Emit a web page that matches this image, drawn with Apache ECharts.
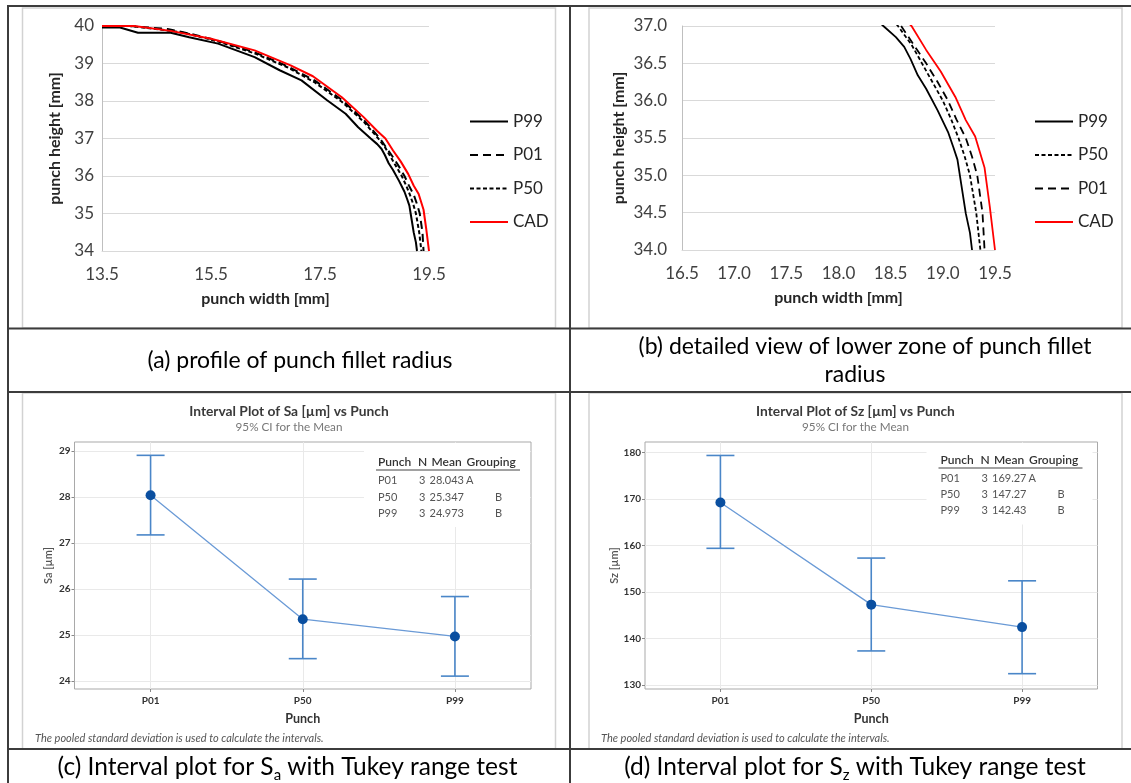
<!DOCTYPE html>
<html><head><meta charset="utf-8">
<script src="https://cdn.jsdelivr.net/npm/echarts@6/dist/echarts.min.js"></script>
<style>html,body{margin:0;padding:0;background:#fff}#c{width:1131px;height:783px}</style>
</head><body><div id="c"></div>
<script>
// ---- profile data [punch width mm, punch height mm] ----
const P99 = [[13.50,39.96],[13.83,39.96],[14.16,39.82],[14.76,39.82],[15.10,39.70],[15.63,39.53],[16.30,39.17],[16.76,38.82],[17.16,38.55],[17.63,38.02],[17.97,37.66],[18.20,37.30],[18.43,37.00],[18.55,36.85],[18.63,36.72],[18.69,36.56],[18.76,36.34],[18.84,36.16],[18.95,35.87],[19.05,35.58],[19.10,35.38],[19.14,35.21],[19.17,34.94],[19.22,34.49],[19.26,34.23],[19.28,34.00]];
const P01 = [[13.50,40.00],[14.00,40.00],[14.70,39.92],[15.10,39.80],[15.60,39.62],[16.30,39.30],[16.90,38.93],[17.40,38.55],[17.90,38.03],[18.30,37.50],[18.60,37.00],[18.72,36.75],[18.84,36.50],[18.95,36.25],[19.05,36.00],[19.13,35.75],[19.22,35.50],[19.28,35.25],[19.33,35.00],[19.38,34.50],[19.39,34.25],[19.40,34.00]];
const P50 = [[13.50,40.00],[14.00,40.00],[14.60,39.90],[15.00,39.82],[15.60,39.60],[16.30,39.27],[16.90,38.90],[17.40,38.50],[17.90,37.98],[18.30,37.45],[18.57,37.00],[18.70,36.75],[18.80,36.50],[18.90,36.25],[19.00,36.00],[19.08,35.75],[19.15,35.50],[19.21,35.25],[19.26,35.00],[19.32,34.50],[19.34,34.25],[19.36,34.00]];
const CAD = [[13.50,40.00],[14.09,40.00],[14.76,39.87],[15.50,39.66],[16.30,39.35],[16.96,38.95],[17.37,38.66],[17.90,38.10],[18.30,37.57],[18.55,37.20],[18.70,37.00],[18.84,36.68],[18.98,36.39],[19.12,36.05],[19.22,35.74],[19.31,35.52],[19.40,35.10],[19.45,34.58],[19.50,34.00]];
const profileXTicks = [13.5, 15.5, 17.5, 19.5];
const legendA = ['P99', 'P01', 'P50', 'CAD'];
const legendB = ['P99', 'P50', 'P01', 'CAD'];

// ---- interval plot data ----
const punches = ['P01', 'P50', 'P99'];
const sampleN = [3, 3, 3];
const saMean = [28.043, 25.347, 24.973];
const saLow  = [27.18, 24.49, 24.11];
const saHigh = [28.91, 26.22, 25.84];
const saGroup = [['A', ''], ['', 'B'], ['', 'B']];
const saTicks = [24, 25, 26, 27, 28, 29];
const szMean = [169.27, 147.27, 142.43];
const szLow  = [159.4, 137.3, 132.4];
const szHigh = [179.4, 157.3, 152.4];
const szGroup = [['A', ''], ['', 'B'], ['', 'B']];
const szTicks = [130, 140, 150, 160, 170, 180];

const F = 'Lato, "Noto Sans", sans-serif';
const chart = echarts.init(document.getElementById('c'));

const lineStyles = {
  P99: { color: '#000000', type: 'solid' },
  P01: { color: '#000000', type: [8, 5] },
  P50: { color: '#000000', type: [4, 2.5] },
  CAD: { color: '#ff0000', type: 'solid' }
};
const profiles = { P99, P01, P50, CAD };
function profSeries(idx, width) {
  return ['P99', 'P01', 'P50', 'CAD'].map(n => ({
    name: n, type: 'line', xAxisIndex: idx, yAxisIndex: idx,
    data: profiles[n], showSymbol: false, symbol: 'none', clip: true,
    lineStyle: { color: lineStyles[n].color, type: lineStyles[n].type, width: width },
    itemStyle: { color: lineStyles[n].color }, silent: true, animation: false
  }));
}

function excelName() {
  return { fontFamily: F, fontWeight: 'bold', fontSize: 16, color: '#262626' };
}

function errRender(params, api) {
  const x = api.value(0);
  const lo = api.coord([x, api.value(1)]);
  const hi = api.coord([x, api.value(2)]);
  const w = 14;
  const style = { stroke: '#4a86c8', lineWidth: 1.6 };
  return { type: 'group', children: [
    { type: 'line', shape: { x1: lo[0], y1: lo[1], x2: hi[0], y2: hi[1] }, style },
    { type: 'line', shape: { x1: hi[0] - w, y1: hi[1], x2: hi[0] + w, y2: hi[1] }, style },
    { type: 'line', shape: { x1: lo[0] - w, y1: lo[1], x2: lo[0] + w, y2: lo[1] }, style }
  ]};
}

function gridMarks(ticks) {
  return {
    silent: true, symbol: 'none', z: 0,
    label: { show: false },
    lineStyle: { color: '#e9e9e9', type: 'solid', width: 1 },
    emphasis: { disabled: true },
    data: punches.map(p => ({ xAxis: p })).concat(ticks.map(t => ({ yAxis: t })))
  };
}

function intervalSeries(idx, mean, low, high, ticks) {
  return [
    { type: 'line', xAxisIndex: idx, yAxisIndex: idx, data: [], z: 0, markLine: gridMarks(ticks), silent: true },
    { type: 'custom', xAxisIndex: idx, yAxisIndex: idx, z: 3, silent: true,
      data: punches.map((p, i) => [i, low[i], high[i]]), encode: { x: 0, y: [1, 2] }, renderItem: errRender },
    { type: 'line', xAxisIndex: idx, yAxisIndex: idx, z: 4, silent: true, data: mean,
      symbol: 'circle', symbolSize: 10, showSymbol: true,
      itemStyle: { color: '#0a4fa0' }, lineStyle: { color: '#6a9ad6', width: 1.3 } }
  ];
}

function tableGraphics(x0, yH, rowYs, means, digits, groups) {
  const els = [];
  els.push({ type: 'rect', z: 1, silent: true,
    shape: { x: x0 - 14, y: 443, width: 166, height: rowYs[2] + 14 - 443 },
    style: { fill: '#ffffff' } });
  const hs = { font: '600 12px ' + F, fill: '#333', textVerticalAlign: 'middle' };
  [['Punch', 0], ['N', 40], ['Mean', 53.5], ['Grouping', 88.5]].forEach(([t, dx]) => {
    els.push({ type: 'text', z: 5, silent: true, x: x0 + dx, y: yH, style: Object.assign({ text: t }, hs) });
  });
  els.push({ type: 'line', z: 5, silent: true, shape: { x1: x0 - 2, y1: yH + 8, x2: x0 + 142, y2: yH + 8 },
    style: { stroke: '#444', lineWidth: 1.2 } });
  const rs = { font: '11px ' + F, fill: '#555', textVerticalAlign: 'middle' };
  punches.forEach((p, i) => {
    const y = rowYs[i];
    els.push({ type: 'text', z: 5, silent: true, x: x0, y, style: Object.assign({ text: p }, rs) });
    els.push({ type: 'text', z: 5, silent: true, x: x0 + 47.5, y, style: Object.assign({ text: String(sampleN[i]), textAlign: 'right' }, rs) });
    els.push({ type: 'text', z: 5, silent: true, x: x0 + 51.5, y, style: Object.assign({ text: means[i].toFixed(digits) }, rs) });
    els.push({ type: 'text', z: 5, silent: true, x: x0 + 88, y, style: Object.assign({ text: groups[i][0] }, rs) });
    els.push({ type: 'text', z: 5, silent: true, x: x0 + 117, y, style: Object.assign({ text: groups[i][1] }, rs) });
  });
  return els;
}

function text(x, y, t, font, fill, align, extra) {
  return { type: 'text', z: 6, silent: true, x, y,
    style: Object.assign({ text: t, font, fill, textAlign: align || 'center', textVerticalAlign: 'middle' }, extra || {}) };
}

const graphics = [];
// table borders
[[8, 5, 8, 783], [570, 5, 570, 783], [7, 6, 1131, 6], [8, 328.5, 1131, 328.5], [8, 392, 1131, 392], [8, 749, 1131, 749]]
  .forEach(l => graphics.push({ type: 'line', z: 10, silent: true, shape: { x1: l[0], y1: l[1], x2: l[2], y2: l[3] }, style: { stroke: '#3c3c3c', lineWidth: 2 } }));
// inner frames
[[22.5, 8, 533, 320], [589, 8, 533, 320], [22.5, 393, 533, 356], [589, 393, 533, 356]]
  .forEach(r => graphics.push({ type: 'rect', z: 0, silent: true, shape: { x: r[0], y: r[1], width: r[2], height: r[3] }, style: { fill: 'none', stroke: '#d2d2d2', lineWidth: 1.5 } }));
// captions
graphics.push(text(300, 361, '(a) profile of punch fillet radius', '23px ' + F, '#000'));
graphics.push(text(865, 347, '(b) detailed view of lower zone of punch fillet', '23px ' + F, '#000'));
graphics.push(text(855, 375, 'radius', '23px ' + F, '#000'));
const capRich = { s: { fontSize: 15, fontFamily: F, lineHeight: 20, verticalAlign: 'bottom', fill: '#000' } };
graphics.push(text(287.5, 767, '(c) Interval plot for S{s|a} with Tukey range test', '24.5px ' + F, '#000', 'center', { rich: capRich, lineHeight: 32 }));
graphics.push(text(855, 767, '(d) Interval plot for S{s|z} with Tukey range test', '24.5px ' + F, '#000', 'center', { rich: capRich, lineHeight: 32 }));
// minitab titles
graphics.push(text(289, 412, 'Interval Plot of Sa [µm] vs Punch', 'bold 13.8px ' + F, '#3a3a3a'));
graphics.push(text(289, 427, '95% CI for the Mean', '11.7px ' + F, '#777'));
graphics.push(text(855.5, 412, 'Interval Plot of Sz [µm] vs Punch', 'bold 13.8px ' + F, '#3a3a3a'));
graphics.push(text(855.5, 427, '95% CI for the Mean', '11.7px ' + F, '#777'));
graphics.push(text(35, 738, 'The pooled standard deviation is used to calculate the intervals.', 'italic 11px ' + F, '#555', 'left'));
graphics.push(text(601, 738, 'The pooled standard deviation is used to calculate the intervals.', 'italic 11px ' + F, '#555', 'left'));
graphics.push(...tableGraphics(378, 462, [480, 497, 513], saMean, 3, saGroup));
graphics.push(...tableGraphics(940.5, 460, [478, 494.5, 510.5], szMean, 2, szGroup));

const excelLabel = { fontFamily: F, fontSize: 17, color: '#404040' };
const mtLabel = { fontFamily: F, fontSize: 10, fontWeight: 'bold', color: '#333' };
const legendCommon = {
  orient: 'vertical', top: 113, itemWidth: 38, itemHeight: 14, itemGap: 16.5,
  textStyle: { fontFamily: F, fontSize: 17, color: '#262626' }, selectedMode: false, padding: 0,
  itemStyle: { color: 'rgba(0,0,0,0)', borderColor: 'rgba(0,0,0,0)', borderWidth: 0 },
  lineStyle: { width: 2 }
};

const option = {
  animation: false,
  backgroundColor: '#ffffff',
  grid: [
    { left: 102, top: 26, width: 327, height: 225 },
    { left: 682, top: 26, width: 313, height: 224 },
    { left: 74.5, top: 442, width: 456.5, height: 247, show: true, borderColor: '#a9a9a9', borderWidth: 1 },
    { left: 645, top: 442, width: 452.5, height: 247, show: true, borderColor: '#a9a9a9', borderWidth: 1 }
  ],
  legend: [
    Object.assign({ data: legendA, left: 469 }, legendCommon),
    Object.assign({ data: legendB, left: 1034 }, legendCommon)
  ],
  xAxis: [
    { gridIndex: 0, type: 'value', min: 13.5, max: 19.5,
      axisLabel: Object.assign({ customValues: profileXTicks, margin: 15 }, excelLabel),
      axisTick: { show: false }, splitLine: { show: false },
      axisLine: { show: true, onZero: false, lineStyle: { color: '#d9d9d9' } },
      name: 'punch width [mm]', nameLocation: 'middle', nameGap: 40, nameTextStyle: excelName() },
    { gridIndex: 1, type: 'value', min: 16.5, max: 19.5, interval: 0.5,
      axisLabel: Object.assign({ margin: 15, formatter: v => v.toFixed(1) }, excelLabel),
      axisTick: { show: false }, splitLine: { show: false },
      axisLine: { show: true, onZero: false, lineStyle: { color: '#d9d9d9' } },
      name: 'punch width [mm]', nameLocation: 'middle', nameGap: 40, nameTextStyle: excelName() },
    { gridIndex: 2, type: 'category', data: punches, boundaryGap: true,
      axisLabel: Object.assign({ margin: 7 }, mtLabel),
      axisTick: { show: true, alignWithLabel: true, length: 3, lineStyle: { color: '#888' } },
      axisLine: { show: false }, splitLine: { show: false },
      name: 'Punch', nameLocation: 'middle', nameGap: 23,
      nameTextStyle: { fontFamily: F, fontSize: 12.5, fontWeight: 'bold', color: '#333' } },
    { gridIndex: 3, type: 'category', data: punches, boundaryGap: true,
      axisLabel: Object.assign({ margin: 7 }, mtLabel),
      axisTick: { show: true, alignWithLabel: true, length: 3, lineStyle: { color: '#888' } },
      axisLine: { show: false }, splitLine: { show: false },
      name: 'Punch', nameLocation: 'middle', nameGap: 23,
      nameTextStyle: { fontFamily: F, fontSize: 12.5, fontWeight: 'bold', color: '#333' } }
  ],
  yAxis: [
    { gridIndex: 0, type: 'value', min: 34, max: 40, interval: 1,
      axisLabel: Object.assign({ margin: 8 }, excelLabel),
      axisTick: { show: false },
      axisLine: { show: true, onZero: false, lineStyle: { color: '#bfbfbf' } },
      splitLine: { show: true, lineStyle: { color: '#d9d9d9', width: 1 } },
      name: 'punch height [mm]', nameLocation: 'middle', nameGap: 39, nameTextStyle: excelName() },
    { gridIndex: 1, type: 'value', min: 34, max: 37, interval: 0.5,
      axisLabel: Object.assign({ margin: 15, formatter: v => v.toFixed(1) }, excelLabel),
      axisTick: { show: false },
      axisLine: { show: true, onZero: false, lineStyle: { color: '#bfbfbf' } },
      splitLine: { show: true, lineStyle: { color: '#d9d9d9', width: 1 } },
      name: 'punch height [mm]', nameLocation: 'middle', nameGap: 55, nameTextStyle: excelName() },
    { gridIndex: 2, type: 'value', min: 23.83, max: 29.2,
      axisLabel: Object.assign({ customValues: saTicks, margin: 4 }, mtLabel),
      axisTick: { show: true, customValues: saTicks, length: 3, lineStyle: { color: '#888' } },
      axisLine: { show: false }, splitLine: { show: false },
      name: 'Sa [µm]', nameLocation: 'middle', nameGap: 21,
      nameTextStyle: { fontFamily: F, fontSize: 11, fontWeight: 600, color: '#555' } },
    { gridIndex: 3, type: 'value', min: 129.1, max: 182.3,
      axisLabel: Object.assign({ customValues: szTicks, margin: 4 }, mtLabel),
      axisTick: { show: true, customValues: szTicks, length: 3, lineStyle: { color: '#888' } },
      axisLine: { show: false }, splitLine: { show: false },
      name: 'Sz [µm]', nameLocation: 'middle', nameGap: 24,
      nameTextStyle: { fontFamily: F, fontSize: 11, fontWeight: 600, color: '#555' } }
  ],
  series: [].concat(
    profSeries(0, 2),
    profSeries(1, 1.8),
    intervalSeries(2, saMean, saLow, saHigh, saTicks),
    intervalSeries(3, szMean, szLow, szHigh, szTicks)
  ),
  graphic: { elements: graphics }
};
chart.setOption(option);
</script>
</body></html>
